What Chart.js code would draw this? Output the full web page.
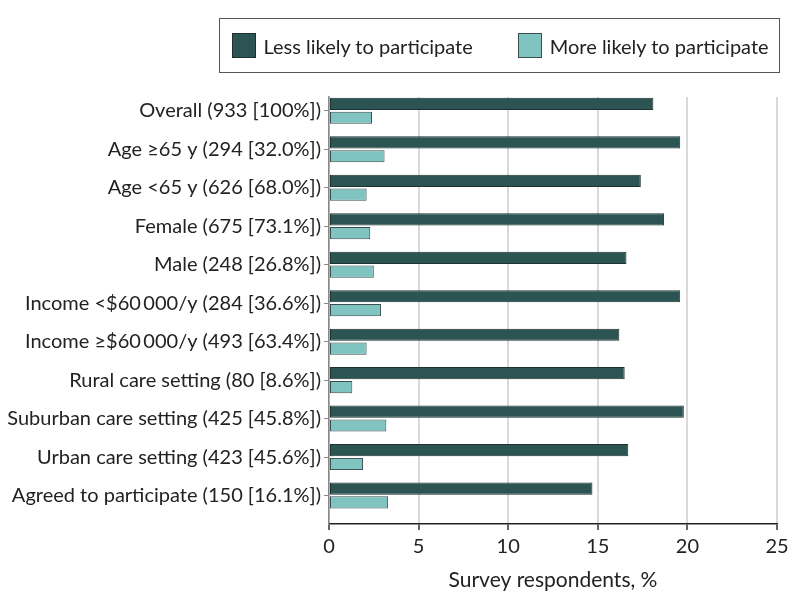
<!DOCTYPE html>
<html>
<head>
<meta charset="utf-8">
<script src="https://cdn.jsdelivr.net/npm/chart.js@4.4.1/dist/chart.umd.min.js"></script>
<style>
  body { margin: 0; background: #fff; }
  #wrap { position: relative; width: 794px; height: 609px; }
  #legend {
    position: absolute; left: 219px; top: 18px; width: 561px; height: 55px;
    box-sizing: border-box; border: 1.5px solid #555;
    display: flex; align-items: center; justify-content: flex-start; gap: 45px;
    padding: 0 0 0 11.5px;
    font-family: Lato, sans-serif; font-size: 20px; color: #222;
  }
  .item { display: flex; align-items: center; }
  .swatch { width: 24px; height: 25px; box-sizing: border-box; border: 1px solid #333; margin-right: 8px; }
</style>
</head>
<body>
<div id="wrap">
  <canvas id="surveyChart" width="794" height="609"></canvas>
  <div id="legend"></div>
</div>
<script>
// nhóm khảo sát
const categories = [
  'Overall (933 [100%])',
  'Age \u226565 y (294 [32.0%])',
  'Age <65 y (626 [68.0%])',
  'Female (675 [73.1%])',
  'Male (248 [26.8%])',
  'Income <$60\u2009000/y (284 [36.6%])',
  'Income \u2265$60\u2009000/y (493 [63.4%])',
  'Rural care setting (80 [8.6%])',
  'Suburban care setting (425 [45.8%])',
  'Urban care setting (423 [45.6%])',
  'Agreed to participate (150 [16.1%])'
];
const lessLikely = [18.1, 19.6, 17.4, 18.7, 16.6, 19.6, 16.2, 16.5, 19.8, 16.7, 14.7];
const moreLikely = [2.4, 3.1, 2.1, 2.3, 2.5, 2.9, 2.1, 1.3, 3.2, 1.9, 3.3];
const xTicks = [0, 5, 10, 15, 20, 25];

const FONT = 'Lato, sans-serif';
const TEXT = '#222';

const ctx = document.getElementById('surveyChart').getContext('2d');
const surveyChart = new Chart(ctx, {
  type: 'bar',
  data: {
    datasets: [{
      label: 'Less likely to participate',
      data: lessLikely.map((v, i) => ({ x: v, y: i })),
      backgroundColor: '#2b5452',
      borderColor: '#1c3130',
      borderWidth: 1,
      borderSkipped: false
    }, {
      label: 'More likely to participate',
      data: moreLikely.map((v, i) => ({ x: v, y: i })),
      backgroundColor: '#80c4c1',
      borderColor: '#3a4d4c',
      borderWidth: 1,
      borderSkipped: false
    }]
  },
  options: {
    indexAxis: 'y',
    responsive: false,
    animation: false,
    categoryPercentage: 0.72,
    barPercentage: 0.88,
    layout: { padding: { top: 97, right: 17, left: 0, bottom: 0 } },
    plugins: {
      legend: { display: false },
      tooltip: { enabled: false }
    },
    scales: {
      x: {
        type: 'linear',
        min: 0,
        max: 25,
        bounds: 'data',
        afterBuildTicks: s => { s.ticks = xTicks.map(v => ({ value: v })); },
        afterFit: s => { s.height = 85; },
        grid: { color: '#d9d9d9', lineWidth: 2, tickColor: '#333', tickWidth: 1.5, tickLength: 6 },
        border: { color: '#222', width: 1.5 },
        ticks: { font: { family: FONT, size: 20 }, color: TEXT, padding: 5 },
        title: {
          display: true,
          text: 'Survey respondents, %',
          font: { family: FONT, size: 21 },
          color: TEXT,
          padding: { top: 4, bottom: 16 }
        }
      },
      y: {
        type: 'linear',
        reverse: true,
        offset: false,
        min: -0.36,
        max: 10.74,
        bounds: 'data',
        afterBuildTicks: s => { s.ticks = categories.map((c, i) => ({ value: i })); },
        afterFit: s => { s.width = 329; },
        grid: { offset: false, drawOnChartArea: false, color: '#888', tickLength: 5 },
        border: { color: '#888', width: 1.5 },
        ticks: {
          autoSkip: false,
          font: { family: FONT, size: 20 },
          color: TEXT,
          padding: 3,
          callback: v => categories[v]
        }
      }
    }
  }
});

// chú thích dạng HTML có khung
const legendEl = document.getElementById('legend');
surveyChart.data.datasets.forEach(ds => {
  const item = document.createElement('div');
  item.className = 'item';
  const sw = document.createElement('span');
  sw.className = 'swatch';
  sw.style.background = ds.backgroundColor;
  sw.style.borderColor = ds.borderColor;
  const txt = document.createElement('span');
  txt.textContent = ds.label;
  item.appendChild(sw);
  item.appendChild(txt);
  legendEl.appendChild(item);
});
</script>
</body>
</html>
